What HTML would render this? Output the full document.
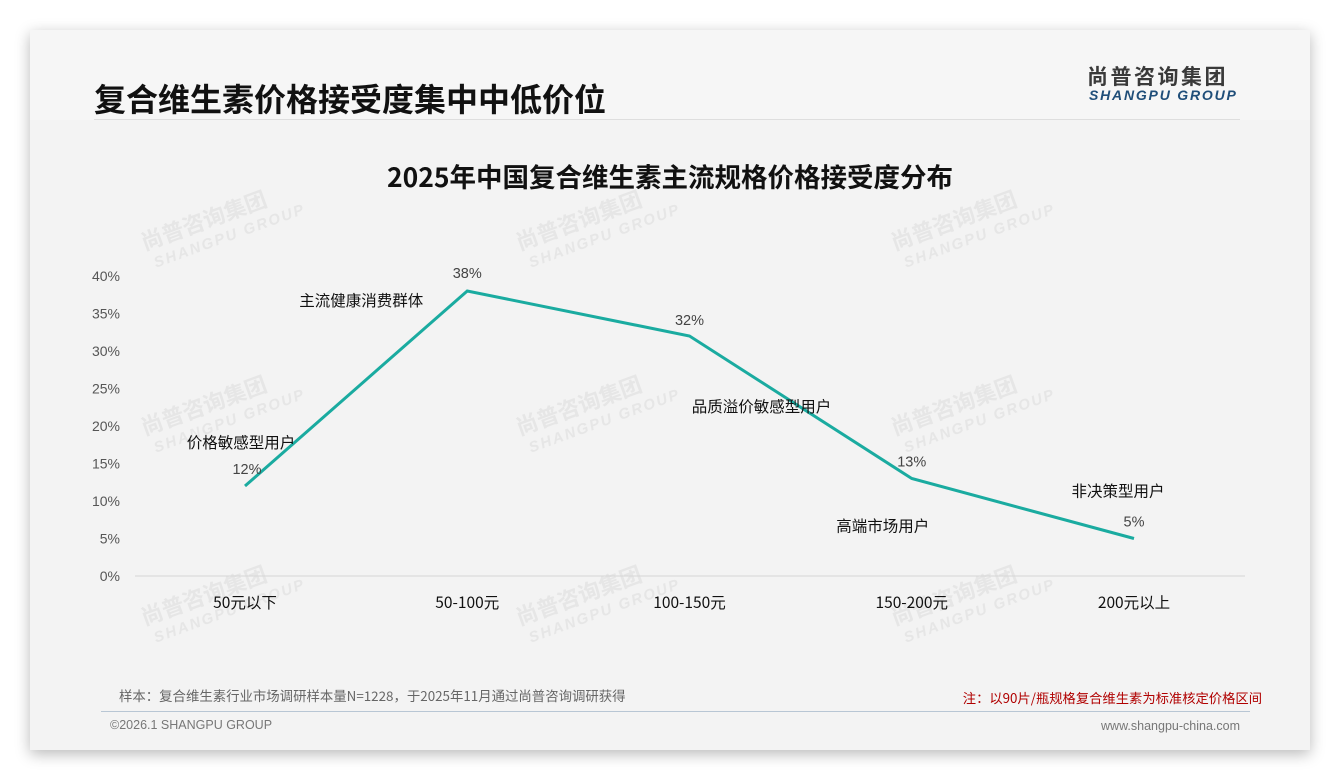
<!DOCTYPE html>
<html><head><meta charset="utf-8">
<style>
html,body{margin:0;padding:0;width:1340px;height:780px;background:#fff;overflow:hidden;font-family:"Liberation Sans","Noto Sans CJK SC",sans-serif;}
#card{position:absolute;left:30px;top:30px;width:1280px;height:720px;background:#f3f3f3;box-shadow:0 4px 14px rgba(0,0,0,0.28);}
#hdr{position:absolute;left:0;top:0;width:1280px;height:90px;background:#f6f6f6;}
.abs{position:absolute;white-space:nowrap;}
</style></head><body>
<div id="card">
<div id="hdr"></div>
<div class="abs" style="left:64px;top:45px;font-size:32px;font-weight:bold;color:#111;font-family:'Noto Sans CJK SC',sans-serif;letter-spacing:0px;">复合维生素价格接受度集中中低价位</div>
<div class="abs" style="left:1057px;top:31px;font-size:21px;font-weight:bold;color:#3a3a3a;letter-spacing:2.5px;font-family:'Noto Sans CJK SC',sans-serif;">尚普咨询集团</div>
<div class="abs" style="left:1059px;top:57px;font-size:14px;font-weight:bold;font-style:italic;color:#1f4e79;letter-spacing:1.8px;">SHANGPU GROUP</div>
<div class="abs" style="left:64px;top:89px;width:1146px;height:1px;background:#dedede;"></div>
</div>
<svg id="chart" width="1340" height="780" style="position:absolute;left:0;top:0"></svg>
<script>
const categories=["50元以下","50-100元","100-150元","150-200元","200元以上"];
const values=[12,38,32,13,5];
const valueLabels=["12%","38%","32%","13%","5%"];
const segmentNames=["价格敏感型用户","主流健康消费群体","品质溢价敏感型用户","高端市场用户","非决策型用户"];
const yTicks=[0,5,10,15,20,25,30,35,40];
const NS="http://www.w3.org/2000/svg";
const svg=document.getElementById('chart');
const x0=245,dx=222.25;
function xs(i){return x0+i*dx;}
function ys(v){return 576-v*7.5;}
function mk(t,a,txt){const e=document.createElementNS(NS,t);for(const k in a)e.setAttribute(k,a[k]);if(txt!=null)e.textContent=txt;svg.appendChild(e);return e;}
const wmX=[215,590,965],wmY=[225,410,600];
wmY.forEach(function(wy){wmX.forEach(function(wx){
 const g=document.createElementNS(NS,'g');g.setAttribute('transform','translate('+wx+','+wy+') rotate(-20)');
 
 
 g.setAttribute('fill','#e6e6e6');g.setAttribute('font-weight','bold');
 const a=document.createElementNS(NS,'text');a.setAttribute('x',-75);a.setAttribute('y',0);a.setAttribute('font-size','22');a.setAttribute('font-family','Noto Sans CJK SC,sans-serif');a.textContent='尚普咨询集团';g.appendChild(a);
 const b=document.createElementNS(NS,'text');b.setAttribute('x',-70);b.setAttribute('y',20);b.setAttribute('font-size','15');b.setAttribute('font-style','italic');b.setAttribute('letter-spacing','2');b.textContent='SHANGPU GROUP';g.appendChild(b);
 svg.appendChild(g);
});});
let e;
e=mk('text',{x:670,y:187,'text-anchor':'middle','font-size':26.5,'font-weight':'bold',fill:'#111','font-family':'Noto Sans CJK SC,sans-serif'},'2025年中国复合维生素主流规格价格接受度分布');


yTicks.forEach(function(t){
 e=mk('text',{x:120,y:ys(t)+5,'text-anchor':'end','font-size':14,fill:'#555'},t+'%');
 
 
});
e=mk('line',{x1:135,x2:1245,y1:576,y2:576,stroke:'#d6d6d6','stroke-width':1});


categories.forEach(function(c,i){
 e=mk('text',{x:xs(i),y:608,'text-anchor':'middle','font-size':15.5,fill:'#111','font-family':'Noto Sans CJK SC,sans-serif'},c);
 
 
});
e=mk('polyline',{points:values.map(function(v,i){return xs(i)+','+ys(v);}).join(' '),fill:'none',stroke:'#1aaba0','stroke-width':3,'stroke-linejoin':'miter'});


const vOff=[[2,-12],[0,-13],[0,-11],[0,-12],[0,-12]];
const nOff=[[-4,-38],[-106,15],[72,76],[-29,53],[-16,-42]];
values.forEach(function(v,i){
 e=mk('text',{x:xs(i)+vOff[i][0],y:ys(v)+vOff[i][1],'text-anchor':'middle','font-size':14.5,fill:'#444'},valueLabels[i]);
 
 
 e=mk('text',{x:xs(i)+nOff[i][0],y:ys(v)+nOff[i][1],'text-anchor':'middle','font-size':15.5,fill:'#111','font-family':'Noto Sans CJK SC,sans-serif'},segmentNames[i]);
 
 
});
e=mk('text',{x:119,y:701,'font-size':13.4,fill:'#666','font-family':'Noto Sans CJK SC,sans-serif'},'样本：复合维生素行业市场调研样本量N=1228，于2025年11月通过尚普咨询调研获得');


e=mk('text',{x:1262,y:703,'text-anchor':'end','font-size':13.3,fill:'#b00000','font-family':'Noto Sans CJK SC,sans-serif'},'注：以90片/瓶规格复合维生素为标准核定价格区间');


e=mk('line',{x1:101,x2:1250,y1:711.5,y2:711.5,stroke:'#b8c6d4','stroke-width':1});


e=mk('text',{x:110,y:729,'font-size':12.5,fill:'#777'},'©2026.1 SHANGPU GROUP');


e=mk('text',{x:1240,y:730,'text-anchor':'end','font-size':12.5,fill:'#777'},'www.shangpu-china.com');


</script>
</body></html>
